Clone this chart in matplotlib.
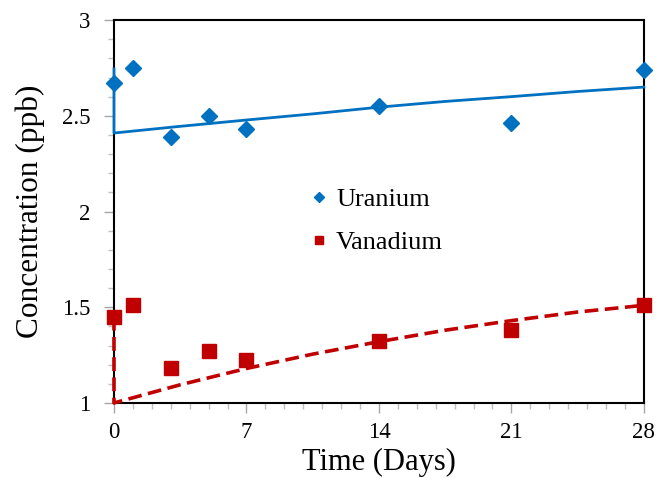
import matplotlib.pyplot as plt
from matplotlib.ticker import MultipleLocator

plt.rcParams['font.family'] = ['Liberation Serif', 'DejaVu Serif']

# measured concentrations (ppb)
days = [0, 1, 3, 5, 7, 14, 21, 28]
uranium = [2.67, 2.75, 2.39, 2.50, 2.43, 2.55, 2.46, 2.74]
vanadium = [1.45, 1.51, 1.18, 1.27, 1.225, 1.325, 1.38, 1.51]

# fitted trend curves
fit_days = [0, 0, 3.5, 7, 10.5, 14, 17.5, 21, 24.5, 28]
uranium_fit = [2.745, 2.41, 2.445, 2.478, 2.51, 2.545, 2.575, 2.60, 2.627, 2.65]
vanadium_fit = [1.45, 1.0, 1.095, 1.18, 1.255, 1.32, 1.38, 1.43, 1.475, 1.51]

blue = '#0070C0'
red = '#C00000'

fig = plt.figure(figsize=(6.57, 4.78), dpi=100)
ax = fig.add_axes([0.1735, 0.157, 0.8065, 0.801])

ax.plot(fit_days, uranium_fit, color=blue, lw=2.0, clip_on=False, zorder=3)
ax.plot(fit_days, vanadium_fit, color=red, lw=2.6, dashes=(3.8, 1.8), clip_on=False, zorder=3)
ax.plot(days, uranium, 'D', color=blue, ms=8.5, ls='none', clip_on=False, zorder=5, label='Uranium')
ax.plot(days, vanadium, 's', color=red, ms=9.5, ls='none', clip_on=False, zorder=5, label='Vanadium')

ax.set_xlim(0, 28)
ax.set_ylim(1, 3)
ax.xaxis.set_major_locator(MultipleLocator(7))
ax.xaxis.set_minor_locator(MultipleLocator(1))
ax.yaxis.set_major_locator(MultipleLocator(0.5))
ax.yaxis.set_minor_locator(MultipleLocator(0.1))
ax.yaxis.set_major_formatter(plt.FuncFormatter(lambda v, p: f'{v:g}'))

ax.tick_params(which='major', direction='out', length=7, width=1, color='#a6a6a6',
               labelsize=16.5)
ax.tick_params(axis='y', which='major', pad=10)
ax.tick_params(axis='x', which='major', pad=7)
ax.tick_params(which='minor', direction='out', length=4, width=1, color='#bfbfbf')
for s in ax.spines.values():
    s.set_linewidth(1.5)
    s.set_color('black')

ax.set_xlabel('Time (Days)', fontsize=22, labelpad=3)
ax.set_ylabel('Concentration (ppb)', fontsize=22.5, labelpad=12)

ax.legend(loc='center left', bbox_to_anchor=(0.362, 0.476), frameon=False,
          fontsize=19, markerscale=0.6, handletextpad=0.15, labelspacing=0.75,
          handlelength=1.0, borderpad=0, borderaxespad=0)

fig.savefig('out.png', dpi=100)
